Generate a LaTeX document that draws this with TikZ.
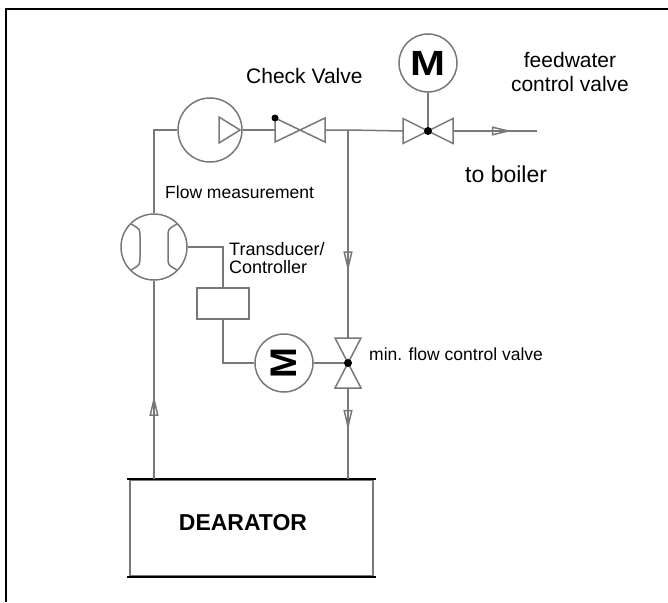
\documentclass[tikz,border=0pt]{standalone}
\usepackage{fontspec}
\setmainfont{Liberation Sans}
\usetikzlibrary{arrows.meta,calc,decorations.markings}

\definecolor{pipegray}{RGB}{120,120,120}
\tikzset{
  pipe/.style={draw=pipegray, line width=1.5pt},
  valvebox/.style={inner sep=0pt, outer sep=0pt},
  motor/.style={circle, draw=pipegray, line width=1.5pt, inner sep=0pt, minimum size=58pt},
  flowtip/.style={postaction={decorate}, decoration={markings,
      mark=at position #1 with {\arrow{Triangle[open, length=20pt, width=9pt]}}}},
  lbl/.style={inner sep=0pt, text=black},
}

\begin{document}
\begin{tikzpicture}[x=1pt, y=-1pt]
\useasboundingbox (0,0) rectangle (668,602);
\draw[line width=2.5pt] (6,602) -- (6,9) -- (668,9);

% pump, check valve, feedwater valve
\node[motor, minimum size=64pt] (pump) at (210,130) {};
\draw[pipe] ($(pump.center)+(9,-13)$) -- ($(pump.center)+(30,0)$) -- ($(pump.center)+(9,13)$) -- cycle;
\node[valvebox, minimum width=50pt, minimum height=24pt] (cv) at (300,130) {};
\draw[pipe] (cv.north west) -- (cv.south west) -- (cv.north east) -- (cv.south east) -- cycle;
\fill (cv.north west) circle (3.5pt);
\coordinate (jn) at (348,130);
\node[valvebox, minimum width=50pt, minimum height=25pt] (fv) at (428,131) {};
\draw[pipe] (fv.north west) -- (fv.south west) -- (fv.north east) -- (fv.south east) -- cycle;
\node[motor] (fvm) at (428,63) {\scalebox{1.2}[1]{\bfseries\fontsize{35}{35}\selectfont M}};
\coordinate (boiler) at (537,131);

% flow meter, transducer, min flow valve
\node[motor, minimum size=66pt] (meter) at (154,247) {};
\begin{scope}[shift={(meter.center)}]
  \draw[pipe] (-23,-23) .. controls (-14,-18) .. (-14,-10) -- (-14,10) .. controls (-14,18) .. (-23,23);
  \draw[pipe] (23,-23) .. controls (14,-18) .. (14,-10) -- (14,10) .. controls (14,18) .. (23,23);
\end{scope}
\node[draw=pipegray, line width=1.5pt, minimum width=52pt, minimum height=31pt, inner sep=0pt] (tc) at (223,303.5) {};
\node[motor] (mm) at (284,363) {\rotatebox{90}{\bfseries\fontsize{37}{37}\selectfont M}};
\node[valvebox, minimum width=26pt, minimum height=50pt] (mv) at (348,363) {};
\draw[pipe] (mv.north west) -- (mv.north east) -- (mv.south west) -- (mv.south east) -- cycle;

% dearator
\node[draw=pipegray, line width=1.5pt, minimum width=243pt, minimum height=96pt, inner sep=0pt] (dea) at (251.5,528) {};
\draw[line width=2pt] ([xshift=-2pt]dea.north west) -- ([xshift=2pt]dea.north east);
\draw[line width=2pt] ([xshift=-2pt]dea.south west) -- ([xshift=2pt]dea.south east);
\node[lbl, anchor=base] (lbldea) at (243,530) {\bfseries\fontsize{23}{23}\selectfont DEARATOR};

% pipes
\draw[pipe] (meter.north) |- (pump.west);
\draw[pipe] (pump.east) -- (cv.west);
\draw[pipe] (cv.east) -- (jn) -- (fv.west);
\draw[pipe] (fvm.south) -- (fv.center);
\draw[pipe, flowtip=0.7] (fv.east) -- (boiler);
\draw[pipe, flowtip=0.68] (jn) -- (mv.north);
\draw[pipe, flowtip=0.46] (mv.south) -- (mv.south |- dea.north);
\draw[pipe, flowtip=0.42] (meter.south |- dea.north) -- (meter.south);
\draw[pipe] (meter.east) -| (tc.north);
\draw[pipe] (tc.south) |- (mm.west);
\draw[pipe] (mm.east) -- (mv.center);
\fill (fv.center) circle (4pt);
\fill (mv.center) circle (4pt);

% labels
\node[lbl, anchor=base west] (lblcheck) at (246,83) {\fontsize{21}{24}\selectfont Check Valve};
\node[lbl, anchor=north, align=center, font=\fontsize{21}{24}\selectfont] (lblfeed) at (570,52) {feedwater\\control valve};
\node[lbl, anchor=base west] (lblboiler) at (465,182) {\fontsize{23}{26}\selectfont to boiler};
\node[lbl, anchor=base west] (lblflow) at (165,198) {\fontsize{17.5}{20}\selectfont Flow measurement};
\node[lbl, anchor=north west, align=left, font=\fontsize{18}{18}\selectfont] (lbltrans) at (229,242) {Transducer/\\Controller};
\node[lbl, anchor=base west] (lblmin) at (369,360) {\fontsize{17.5}{20}\selectfont min. flow control valve};
\end{tikzpicture}
\end{document}
